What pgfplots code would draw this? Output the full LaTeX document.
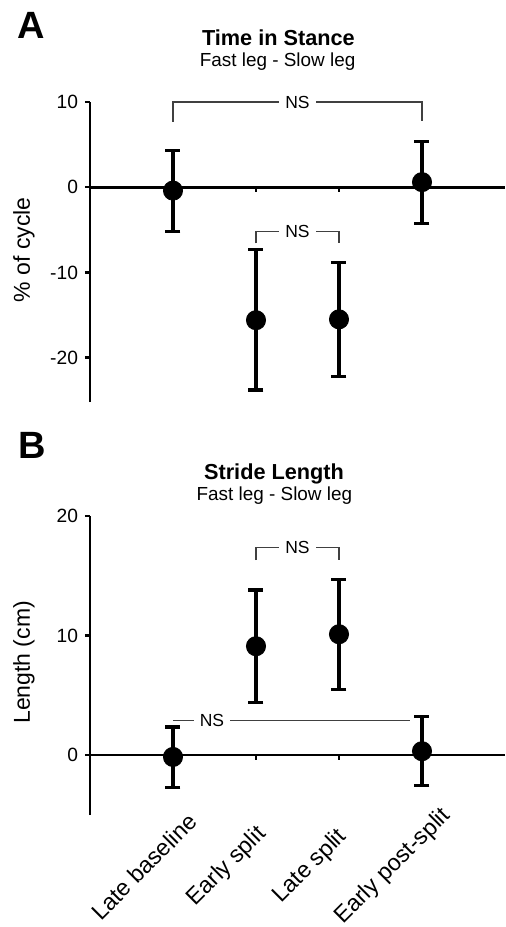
\documentclass[border=0pt]{standalone}
\usepackage{fontspec}
\setmainfont{Liberation Sans}
\usepackage{pgfplots}
\usepackage{pgfplotstable}
\pgfplotsset{compat=1.18}

% mean, upper and lower error (fast leg - slow leg)
\pgfplotstableread{
x y ep em
1 -0.4 4.7 4.8
2 -15.6 8.3 8.2
3 -15.5 6.7 6.7
4 0.6 4.8 4.9
}\stance
\pgfplotstableread{
x y ep em
1 -0.15 2.5 2.55
2 9.1 4.7 4.73
3 10.1 4.6 4.6
4 0.33 2.87 2.89
}\stride

\tikzset{
  ns/.style={black!75, line width=0.6pt},
  nslab/.style={fill=white, inner xsep=3pt, inner ysep=0.5pt, font=\fontsize{8.75}{10}\selectfont},
  zerotick/.style={line width=1.2pt},
  letter/.style={anchor=base west, inner sep=0pt, font=\bfseries\fontsize{19}{21}\selectfont},
}
\pgfplotsset{
  panel/.style={
    scale only axis, width=207.5pt, clip=false,
    xmin=0, xmax=5,
    axis y line=left, axis x line=bottom,
    y axis line style={-, line width=1.3pt},
    x axis line style={draw=none},
    x tick style={draw=none},
    y tick style={black, line width=1.2pt},
    tick align=outside, major tick length=2.5pt,
    /pgf/number format/assume math mode=true,
    yticklabel style={font=\fontsize{9.6}{11}\selectfont},
    ylabel style={font=\fontsize{11.5}{13}\selectfont, anchor=center},
  },
  pts/.style={only marks, mark=*, mark size=4.8pt, black,
    error bars/.cd, y dir=both, y explicit,
    error bar style={line width=1.6pt},
    error mark options={rotate=90, mark size=3.75pt, line width=1.6pt}},
  zero/.style={black, line width=1.3pt, forget plot},
}

\begin{document}
\begin{tikzpicture}
\useasboundingbox (0,0) rectangle (252.5pt,-463.5pt);

% panel A
\node[letter] at (8.7pt,-19.2pt) {A};
\node[anchor=base, font=\bfseries\fontsize{10.85}{12}\selectfont] at (139.2pt,-22.85pt) {Time in Stance};
\node[anchor=base, font=\fontsize{9.45}{11}\selectfont] at (138.8pt,-33.3pt) {Fast leg - Slow leg};
\begin{axis}[panel, at={(45pt,-201pt)}, anchor=south west, height=150pt,
  ymin=-25.2, ymax=10, ytick={-20,-10,0,10}, xtick=\empty,
  ylabel={\% of cycle}, ylabel style={at={(axis description cs:-0.159,0.508)}}]
  \addplot[zero] coordinates {(0,0) (5,0)};
  \draw[zerotick] (axis cs:2,0) -- ([yshift=-2.5pt]axis cs:2,0);
  \draw[zerotick] (axis cs:3,0) -- ([yshift=-2.5pt]axis cs:3,0);
  \addplot[pts] table[x=x, y=y, y error plus=ep, y error minus=em] {\stance};
  \draw[ns] (axis cs:1,7.7) -- (axis cs:1,10) -- (axis cs:4,10) -- (axis cs:4,7.8);
  \node[nslab] at (axis cs:2.5,10) {NS};
  \draw[ns] (axis cs:2,-6.6) -- (axis cs:2,-5.15) -- (axis cs:3,-5.15) -- (axis cs:3,-6.6);
  \node[nslab] at (axis cs:2.5,-5.15) {NS};
\end{axis}

% panel B
\node[letter] at (9pt,-229.2pt) {B};
\node[anchor=base, font=\bfseries\fontsize{10.85}{12}\selectfont] at (137pt,-239.7pt) {Stride Length};
\node[anchor=base, font=\fontsize{9.45}{11}\selectfont] at (137.2pt,-250.3pt) {Fast leg - Slow leg};
\begin{axis}[panel, at={(45pt,-407.5pt)}, anchor=south west, height=149.65pt,
  ymin=-5, ymax=20, ytick={0,10,20}, xtick={1,2,3,4},
  xticklabels={Late baseline, Early split, Late split, Early post-split},
  x tick label style={xshift=-14.5pt, yshift=-23.3pt, rotate=45, anchor=center,
    font=\fontsize{11.6}{13}\selectfont},
  ylabel={Length (cm)}, ylabel style={at={(axis description cs:-0.159,0.51)}}]
  \addplot[zero] coordinates {(0,0) (5,0)};
  \draw[zerotick] (axis cs:2,0) -- ([yshift=-2.5pt]axis cs:2,0);
  \draw[zerotick] (axis cs:3,0) -- ([yshift=-2.5pt]axis cs:3,0);
  \addplot[pts] table[x=x, y=y, y error plus=ep, y error minus=em] {\stride};
  \draw[ns] (axis cs:2,16.3) -- (axis cs:2,17.35) -- (axis cs:3,17.35) -- (axis cs:3,16.3);
  \node[nslab] at (axis cs:2.5,17.35) {NS};
  \draw[ns] (axis cs:1,2.92) -- (axis cs:3.85,2.92);
  \node[nslab] at (axis cs:1.47,2.92) {NS};
\end{axis}
\end{tikzpicture}
\end{document}
